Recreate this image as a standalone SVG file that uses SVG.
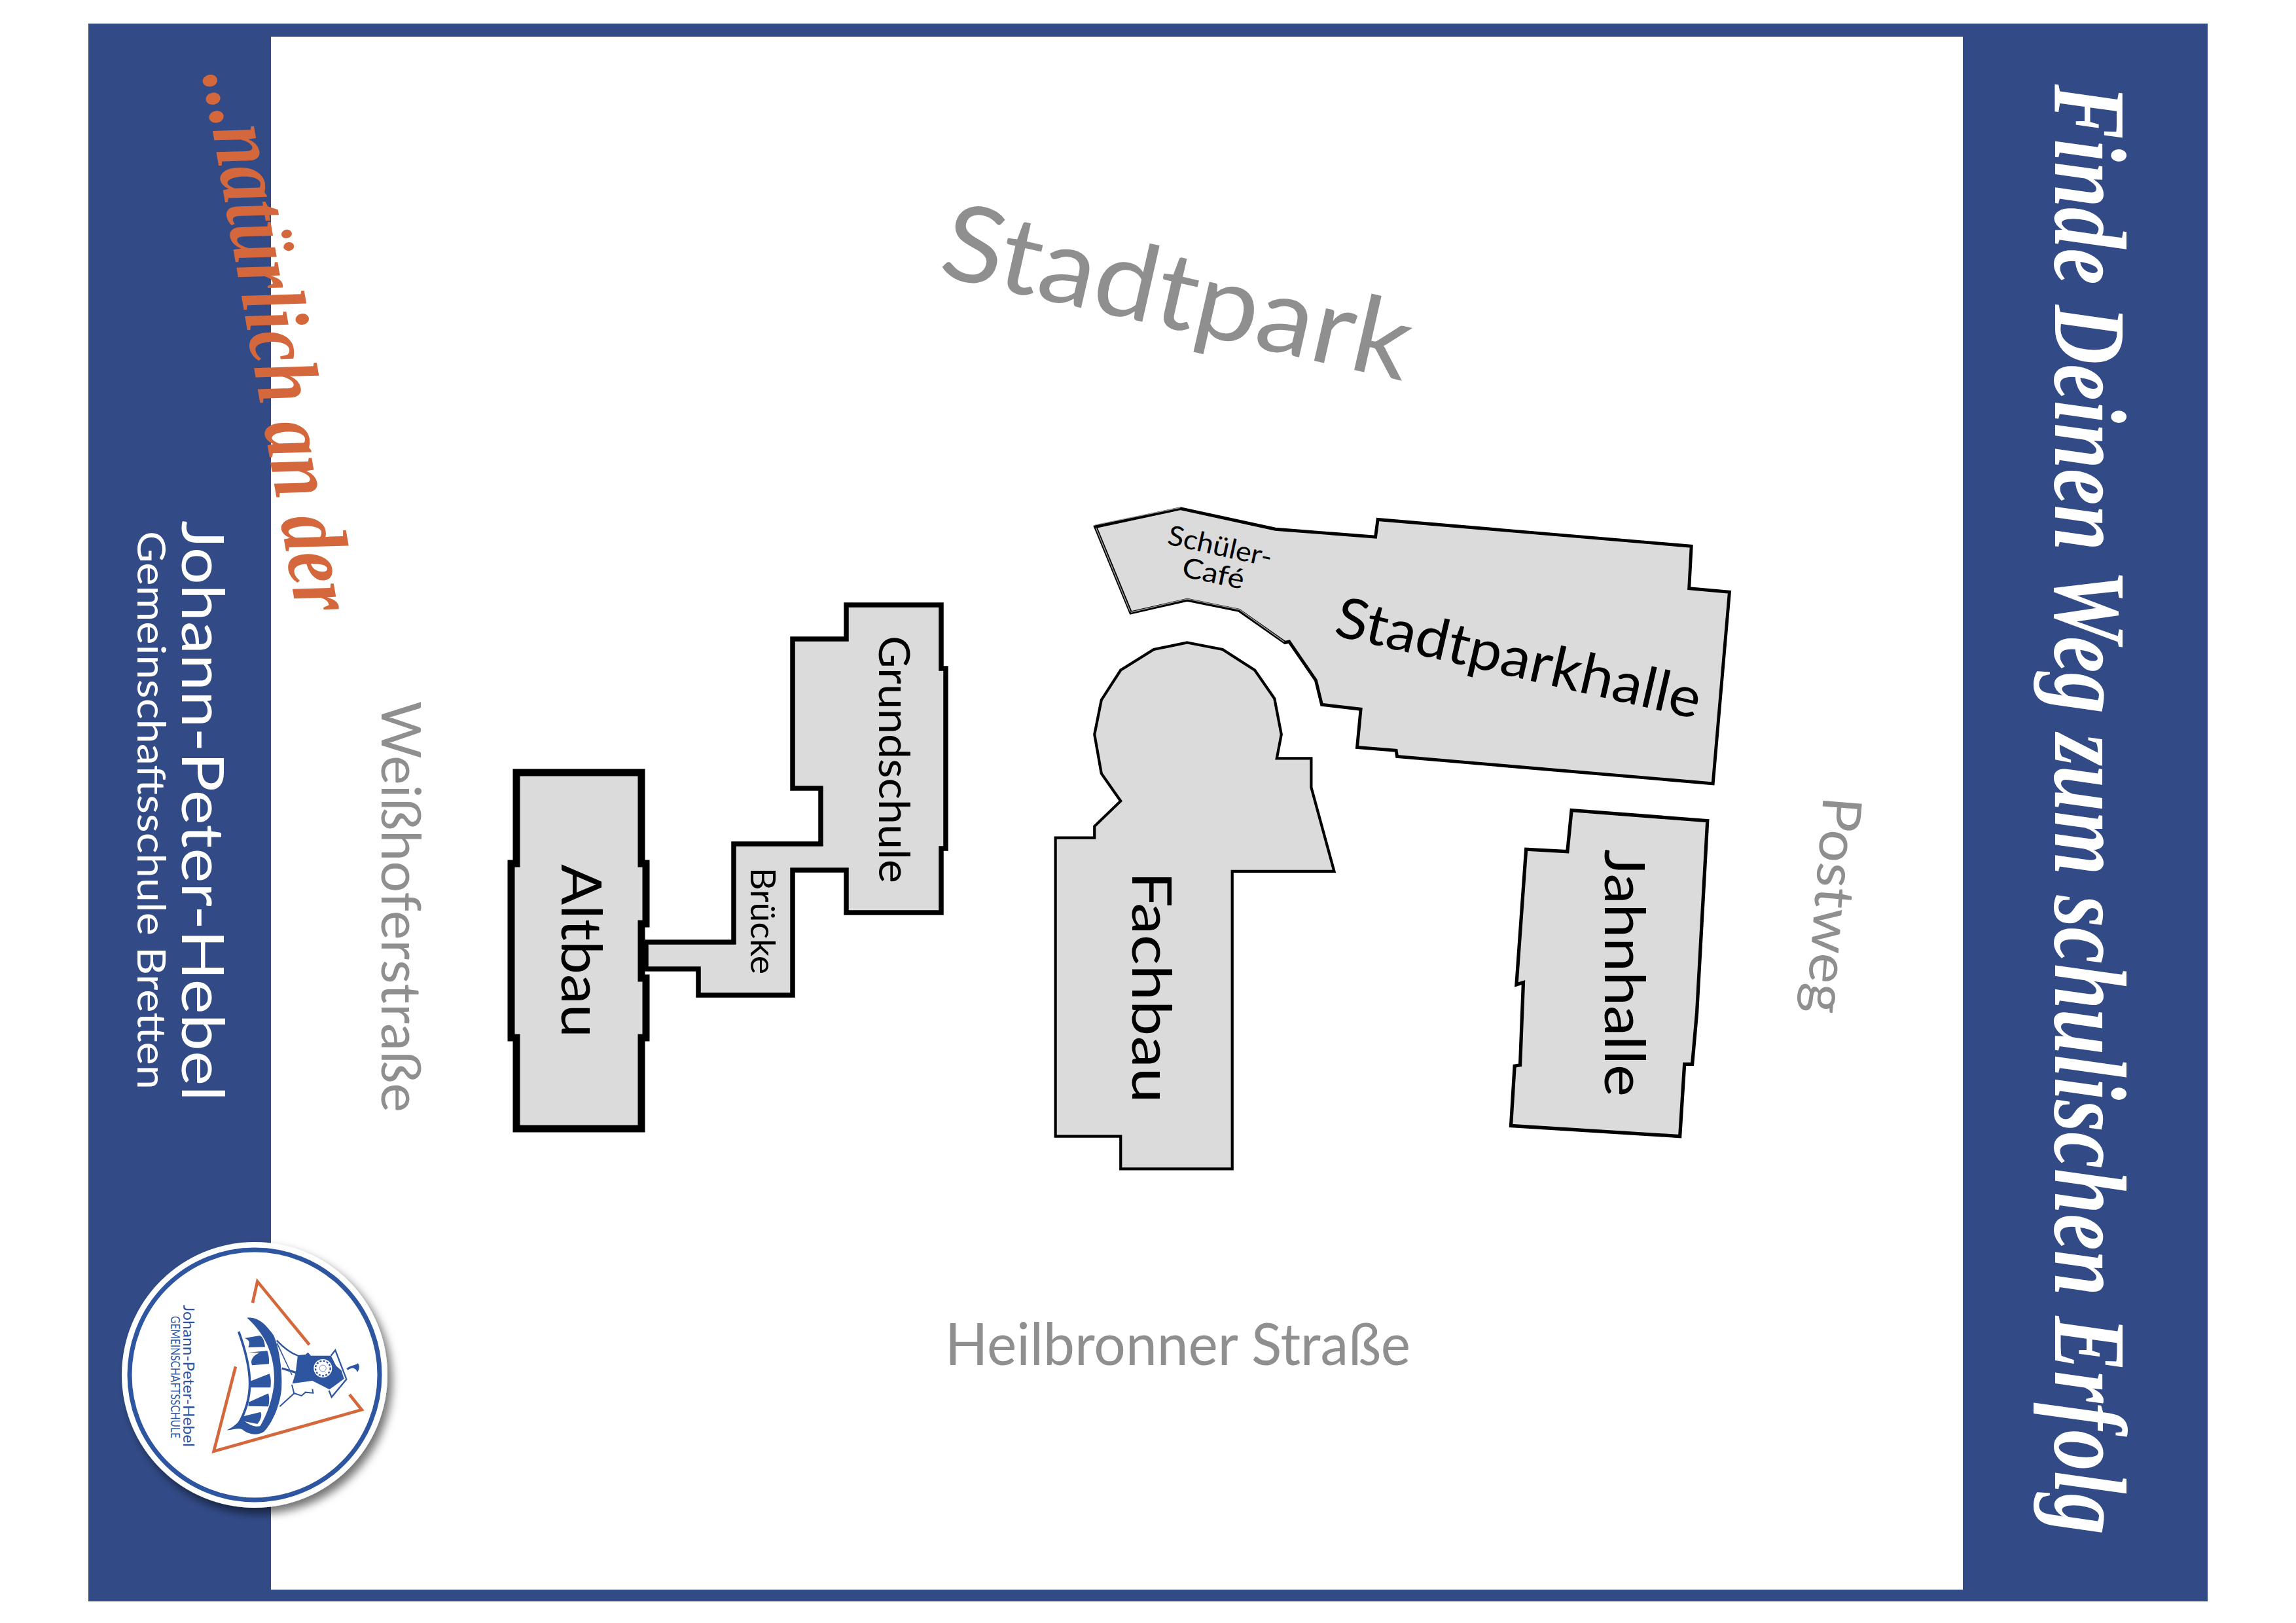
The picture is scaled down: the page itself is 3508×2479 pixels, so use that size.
<svg xmlns="http://www.w3.org/2000/svg" width="3508" height="2479" viewBox="0 0 3508 2479">
<defs>
<style>
text{font-family:"Lato","Liberation Sans",sans-serif}
.b{fill:#dbdbdb;stroke:#000;stroke-linejoin:miter}
.l{fill:#000;font-weight:400}
.g{fill:#8f8f8f;font-weight:400}
.w{fill:#fff;font-weight:400}
.s{font-family:"Liberation Serif",serif;font-style:italic;font-weight:700}
.o{fill:none;stroke:#d4683c;stroke-width:14}
.lb{fill:#2e55a0}
.ls{fill:none;stroke:#2e55a0}
.e{fill:none;stroke:#9a9a9a;stroke-width:2}
</style>
<filter id="sh" x="-20%" y="-20%" width="140%" height="140%"><feDropShadow dx="7" dy="9" stdDeviation="7" flood-color="#000" flood-opacity=".55"/></filter>
</defs>
<rect width="3508" height="2479" fill="#fff"/>
<rect id="frame" x="135" y="36" width="3238" height="2410" fill="#324b87"/>
<rect id="map" x="414" y="56" width="2585" height="2372" fill="#fff"/>

<text id="slogan" class="s" fill="#fff" font-size="156" transform="translate(3140,129) rotate(90)" textLength="2215" lengthAdjust="spacingAndGlyphs">Finde Deinen Weg zum schulischen Erfolg</text>
<text id="tagline" class="s" fill="#d4683c" font-size="138" transform="translate(310,115) rotate(80.1)" textLength="838" lengthAdjust="spacingAndGlyphs">...natürlich an der</text>
<text class="w" font-size="90" transform="translate(278,795) rotate(90)" textLength="887" lengthAdjust="spacingAndGlyphs">Johann-Peter-Hebel</text>
<text class="w" font-size="60" transform="translate(210,811) rotate(90)" textLength="853" lengthAdjust="spacingAndGlyphs">Gemeinschaftsschule Bretten</text>

<text class="g" font-size="162" transform="translate(1431,420) rotate(12.8)" textLength="730" lengthAdjust="spacingAndGlyphs">Stadtpark</text>
<text class="g" font-size="84" transform="translate(583,1071) rotate(90)" textLength="628" lengthAdjust="spacingAndGlyphs">Weißhoferstraße</text>
<text class="g" font-size="83" transform="translate(2786,1215) rotate(94.6)" textLength="332" lengthAdjust="spacingAndGlyphs">Postweg</text>
<text class="g" font-size="90" x="1444" y="2085" textLength="711" lengthAdjust="spacingAndGlyphs">Heilbronner Straße</text>

<g id="grundschule">
<path class="b" stroke-width="7.5" d="M1293 924H1438V1021H1445V1296H1438V1394H1293V1329H1211V1520H1067V1480H987V1439H1121V1289H1254V1204H1211V976H1293Z"/>
<text class="l" font-size="66" transform="translate(1343,971) rotate(90)" textLength="378" lengthAdjust="spacingAndGlyphs">Grundschule</text>
<text class="l" font-size="52" transform="translate(1147,1325) rotate(90)" textLength="163" lengthAdjust="spacingAndGlyphs">Brücke</text>
</g>
<g id="altbau">
<path class="b" stroke-width="11" d="M789 1180H980V1319H987V1411H980V1494H987V1585H980V1724H789V1585H781V1319H789Z"/>
<text class="l" font-size="86" transform="translate(858,1320) rotate(90)" textLength="265" lengthAdjust="spacingAndGlyphs">Altbau</text>
</g>
<g id="fachbau">
<path class="b" stroke-width="6" transform="translate(1600,750) scale(.7015)" d="M305 330L382 345L452 390L495 452L510 530L500 582H575V645L625 828H403V1476H160V1405H18V755H103V730L160 675L118 615L103 530L118 455L160 390L232 345Z"/>
<text class="l" font-size="84" transform="translate(1730,1331) rotate(90)" textLength="354" lengthAdjust="spacingAndGlyphs">Fachbau</text>
</g>
<g id="stadtparkhalle">
<path class="b" stroke-width="7" transform="translate(1600,750) scale(.7015)" d="M105 78L290 38L497 83L715 100L720 62L1403 120L1398 212L1486 220L1450 637L762 578L760 565L675 558L683 475L598 465L585 412L527 328L518 330L418 260L305 237L182 265Z"/>
<path class="e" transform="translate(1600,750) scale(.7015)" d="M104 74L290 36M182 264L305 235L418 258L516 328M106 80L181 263"/>
<text class="l" font-size="86" transform="translate(2036,970) rotate(13)" textLength="570" lengthAdjust="spacingAndGlyphs">Stadtparkhalle</text>
<text class="l" font-size="42" transform="translate(1782,831) rotate(12.5)" textLength="162" lengthAdjust="spacingAndGlyphs">Schüler-</text>
<text class="l" font-size="42" transform="translate(1804,880) rotate(12)" textLength="96" lengthAdjust="spacingAndGlyphs">Café</text>
</g>
<g id="jahnhalle">
<path class="b" stroke-width="7.5" transform="translate(1600,750) scale(.7015)" d="M1142 695L1438 718L1415 1135L1405 1248H1388L1378 1405L1010 1382L1018 1252L1030 1250L1037 1070L1022 1075L1043 780L1133 785Z"/>
<text class="l" font-size="86" transform="translate(2452,1297) rotate(90)" textLength="378" lengthAdjust="spacingAndGlyphs">Jahnhalle</text>
</g>

<g id="logo">
<circle cx="389" cy="2100" r="203" fill="#fff" filter="url(#sh)"/>
<circle cx="389" cy="2100" r="191" fill="none" stroke="#2e55a0" stroke-width="7"/>
<g transform="translate(130,1850) scale(.3333)">
<path class="o" d="M768 420L790 322L1028 612"/>
<path class="o" d="M690 712L590 1100L1268 910L1212 840"/>
</g>
<text fill="#2e55a0" font-size="23" transform="translate(280,1993) rotate(90)" textLength="217" lengthAdjust="spacingAndGlyphs">Johann-Peter-Hebel</text>
<text fill="#2e55a0" font-size="19" transform="translate(261,2010) rotate(90)" textLength="187" lengthAdjust="spacingAndGlyphs">GEMEINSCHAFTSSCHULE</text>
<g transform="translate(340,2000) scale(.3333)">
<path class="lb" d="M112 38C170 30 210 85 235 120C265 190 275 300 270 370C262 440 230 520 190 560C160 580 120 575 90 550C70 540 40 555 20 553C50 540 75 515 85 500L105 515C125 530 150 540 172 535C205 480 235 400 237 320C238 240 215 130 112 38Z"/>
<path class="ls" stroke-width="11" d="M74 102C95 160 125 260 125 340C125 420 100 480 72 528"/>
<path class="lb" d="M100 132L170 120Q190 125 195 172L118 174Q132 140 100 132Z"/>
<path class="lb" d="M118 197L205 190Q215 215 213 250L135 256Q122 220 170 198Z"/>
<path class="lb" d="M125 330L215 295Q225 320 220 358L130 358Z"/>
<path class="lb" d="M120 425L210 385Q218 410 210 445L118 443Z"/>
<path class="lb" d="M95 490L175 470Q185 495 160 525L85 510Z"/>
<path class="ls" stroke-width="7" d="M248 142C280 175 310 200 345 212"/>
<path class="ls" stroke-width="5" d="M250 155L318 300"/>
<path class="ls" stroke-width="10" d="M272 270L338 290"/>
<path class="ls" stroke-width="6" d="M262 445L328 385L318 345"/>
<path class="ls" stroke-width="6" d="M330 385L362 396L380 380L415 383L412 365"/>
<path class="lb" d="M345 210L380 207L392 197L405 212L497 212L520 258L545 280L557 318L490 367L412 327L320 340L335 290Z"/>
<path class="ls" stroke-width="7" d="M497 212L517 187L568 320L500 402L488 372"/>
<circle cx="460" cy="270" r="42" fill="#fff"/>
<circle cx="460" cy="270" r="34" fill="none" stroke="#2e55a0" stroke-width="7" stroke-dasharray="9 7"/>
<circle cx="460" cy="270" r="15" fill="none" stroke="#2e55a0" stroke-width="2"/>
<path class="lb" d="M568 272C585 255 610 258 620 247C630 255 628 275 618 288C612 270 595 262 575 278Z"/>
</g>
</g>
</svg>
